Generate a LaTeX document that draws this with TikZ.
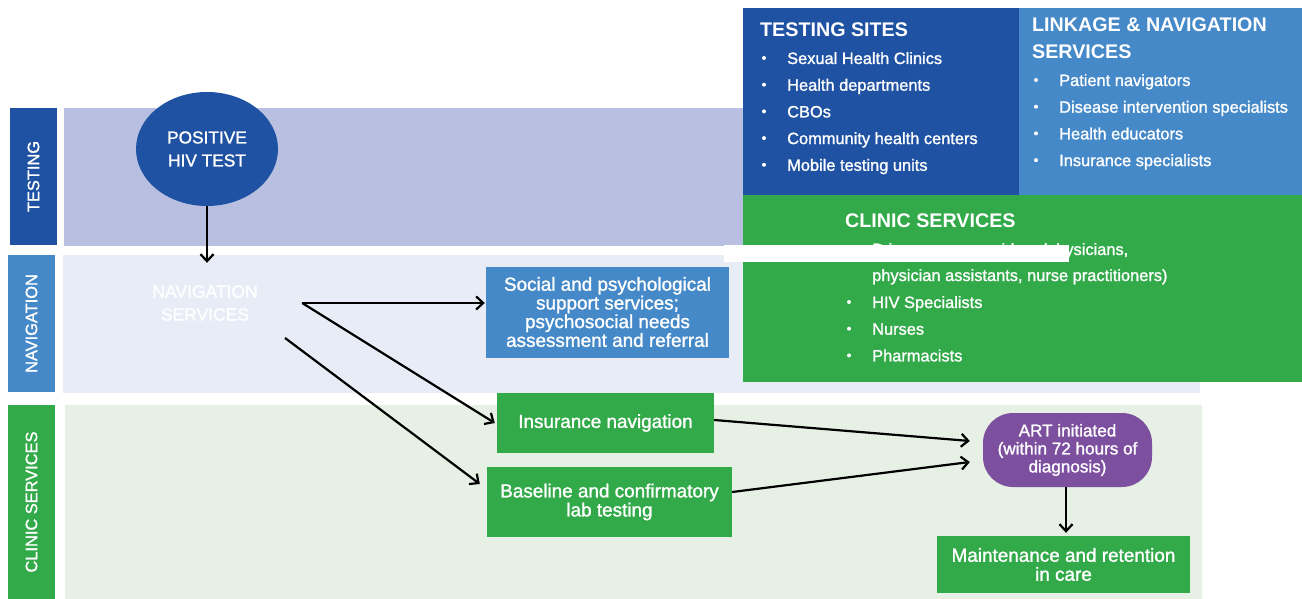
\documentclass[tikz,border=0pt]{standalone}
\usepackage{fontspec}
\setmainfont{Liberation Sans}
\newfontfamily\medfont[FakeBold=1.3]{Liberation Sans}
\usetikzlibrary{arrows.meta,shapes.geometric}
\definecolor{tdark}{HTML}{1F52A3}
\definecolor{tmid}{HTML}{4589C8}
\definecolor{tgreen}{HTML}{33AA4A}
\definecolor{tpurple}{HTML}{7D4F9F}
\definecolor{lanetest}{HTML}{B8BFE0}
\definecolor{lanenav}{HTML}{E8ECF7}
\definecolor{laneclin}{HTML}{E6F0E5}
\begin{document}
\begin{tikzpicture}[x=1pt, y=-1pt, line join=round, >={Straight Barb[length=7pt,width=13pt]},
	box/.style={fill=#1, text=white, align=center, inner sep=0pt, font=\medfont\fontsize{18.9}{19}\selectfont},
	lanelabel/.style={fill=#1, text=white, rotate=90, inner sep=0pt, minimum height=47, font=\medfont\fontsize{16.4}{18}\selectfont},
	head/.style={text=white, anchor=base west, inner sep=0pt, align=left, font=\fontsize{19.7}{27}\selectfont\bfseries},
	item/.style={text=white, anchor=base west, inner sep=0pt, font=\medfont\fontsize{16.4}{18}\selectfont},
	flow/.style={->, line width=2.2pt}]
	\useasboundingbox (0,0) rectangle (1302,599);
	% swim lanes
	\fill[lanetest] (64,108) rectangle (743,246);
	\fill[lanenav] (63,255) rectangle (1200,393);
	\fill[laneclin] (65,405) rectangle (1202,599);
	\node[lanelabel=tdark, minimum width=137] (lt) at (33.5,176.5) {TESTING};
	\node[lanelabel=tmid, minimum width=137] (ln) at (31.5,323.5) {NAVIGATION};
	\node[lanelabel=tgreen, minimum width=194] (lc) at (31.5,502) {CLINIC SERVICES};
	% who does what
	\fill[tdark] (743,8) rectangle (1019,195);
	\fill[tmid] (1019,8) rectangle (1302,195);
	\fill[tgreen] (743,195) rectangle (1302,382);
	\node[head] (tsh) at (760,37) {TESTING SITES};
	\node[head] (lnh) at (1032,59) {LINKAGE \& NAVIGATION\\SERVICES};
	\node[head] (csh) at (845,227) {CLINIC SERVICES};
	\foreach \t [count=\i from 0] in {Sexual Health Clinics, Health departments, CBOs, Community health centers, Mobile testing units}{
		\fill[white] (764,{58+26.7*\i}) circle (2);
		\node[item] (ts\i) at (787,{64+26.7*\i}) {\t};
	}
	\foreach \t [count=\i from 0] in {Patient navigators, Disease intervention specialists, Health educators, Insurance specialists}{
		\fill[white] (1036,{80+26.7*\i}) circle (2);
		\node[item] (lk\i) at (1059,{86+26.7*\i}) {\t};
	}
	\fill[white] (849,249) circle (2);
	\node[item] (cs0) at (872,255) {Primary care providers (physicians,};
	\node[item] (cs1) at (872,281) {physician assistants, nurse practitioners)};
	\foreach \t [count=\i from 2] in {HIV Specialists, Nurses, Pharmacists}{
		\fill[white] (849,{302+26.7*(\i-2)}) circle (2);
		\node[item] (cs\i) at (872,{308+26.7*(\i-2)}) {\t};
	}
	\fill[white] (724,245) rectangle (1069,262);
	% flow
	\node[ellipse, fill=tdark, text=white, align=center, inner sep=0pt, minimum width=142, minimum height=114,
		font=\medfont\fontsize{17.3}{23}\selectfont] (pos) at (207,149) {POSITIVE\\HIV TEST};
	\node[text=white, align=center, inner sep=0pt, minimum width=194, minimum height=80,
		font=\medfont\fontsize{17.5}{23}\selectfont] (nav) at (205,303) {NAVIGATION\\SERVICES};
	\node[box=tmid, minimum width=243, minimum height=91, font=\medfont\fontsize{18.9}{18.7}\selectfont] (soc) at (607.5,312)
		{Social and psychological\\support services;\\psychosocial needs\\assessment and referral};
	\node[box=tgreen, minimum width=217, minimum height=60] (ins) at (605.5,423) {Insurance navigation};
	\node[box=tgreen, minimum width=245, minimum height=70] (base) at (609.5,502) {Baseline and confirmatory\\lab testing};
	\node[box=tpurple, rounded corners=30pt, minimum width=169, minimum height=74, font=\medfont\fontsize{17.1}{18}\selectfont]
		(art) at (1067.5,450) {ART initiated\\(within 72 hours of\\diagnosis)};
	\node[box=tgreen, minimum width=253, minimum height=57] (maint) at (1063.5,564.5) {Maintenance and retention\\in care};
	\coordinate (navlow) at (285,338);
	\draw[flow] (pos.south) -- (pos.south |- nav.north);
	\draw[flow] (nav.east) -- ([xshift=-1]nav.east -| soc.west);
	\draw[flow] (nav.east) -- ([xshift=-2]ins.west);
	\draw[flow] (navlow) -- ([xshift=-7,yshift=18]base.west);
	\draw[flow] ([yshift=3]ins.east) -- ([xshift=-13,yshift=9]art.west);
	\draw[flow] ([yshift=10]base.east) -- ([xshift=-13,yshift=-12]art.west);
	\draw[flow, shorten >=3pt] ([xshift=-1.5]art.south) -- ([xshift=-1.5]art.south |- maint.north);
\end{tikzpicture}
\end{document}
